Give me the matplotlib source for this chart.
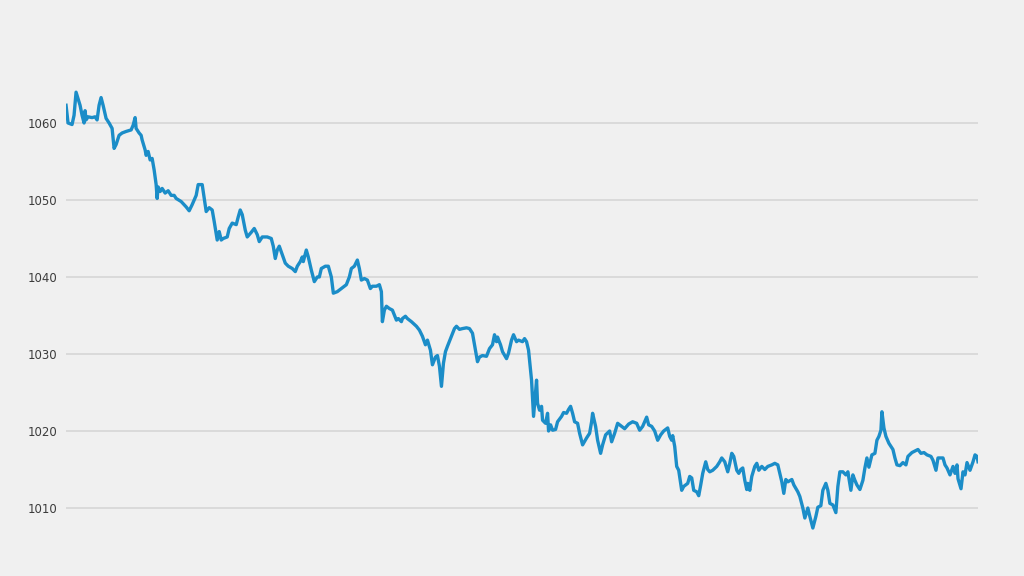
import numpy as np
import matplotlib
matplotlib.use("Agg")
import matplotlib.pyplot as plt

# ----------------------------------------------------
# Data
# ----------------------------------------------------

day = [
    1, 3, 7, 9, 11, 15, 17, 19, 20, 21, 23, 27, 30, 32, 34, 36, 38, 41, 44, 47,
    49, 51, 54, 57, 61, 66, 68, 70, 71, 74, 76, 77, 80, 81, 83, 85, 87, 89, 91, 92,
    93, 95, 97, 100, 103, 106, 109, 111, 116, 121, 124, 127, 131, 133, 137, 139, 141, 144, 147, 149,
    152, 154, 156, 158, 162, 164, 167, 171, 173, 175, 177, 180, 182, 186, 189, 192, 194, 197, 202, 206,
    208, 210, 212, 214, 217, 220, 223, 227, 230, 232, 235, 237, 238, 241, 243, 246, 249, 252, 254, 256,
    260, 263, 266, 268, 272, 276, 281, 284, 286, 289, 292, 294, 296, 299, 302, 305, 307, 311, 314, 316,
    317, 319, 321, 324, 327, 331, 333, 336, 337, 340, 342, 346, 351, 354, 357, 360, 362, 365, 367, 370,
    372, 374, 376, 378, 380, 382, 386, 389, 391, 394, 397, 401, 404, 407, 410, 412, 414, 417, 421, 424,
    427, 429, 431, 432, 435, 437, 441, 443, 446, 448, 451, 453, 457, 459, 461, 463, 466, 468, 471, 472,
    474, 476, 477, 480, 482, 483, 485, 487, 490, 492, 496, 498, 501, 503, 505, 507, 509, 512, 514, 517,
    521, 524, 526, 527, 530, 532, 535, 537, 540, 544, 546, 549, 552, 556, 559, 563, 567, 571, 574, 577,
    581, 583, 586, 589, 592, 595, 598, 602, 604, 606, 607, 609, 611, 613, 616, 618, 622, 624, 626, 628,
    631, 633, 635, 637, 640, 642, 644, 647, 651, 654, 656, 659, 662, 664, 666, 668, 671, 673, 675, 677,
    679, 681, 682, 684, 686, 689, 691, 693, 696, 699, 702, 706, 709, 712, 714, 716, 718, 720, 722, 726,
    728, 732, 734, 737, 739, 742, 744, 747, 750, 752, 755, 757, 760, 762, 764, 767, 770, 772, 774, 777,
    780, 782, 785, 787, 789, 791, 794, 797, 799, 801, 803, 806, 809, 811, 813, 815, 816, 818, 820, 823,
    827, 829, 831, 834, 837, 840, 842, 846, 849, 852, 855, 858, 861, 865, 867, 870, 872, 877, 879, 881,
    884, 887, 889, 891, 892, 895, 897, 899, 901, 904, 907, 909, 911, 912,
]

pressure = [
    1062.3, 1060.0, 1059.8, 1061.0, 1064.0, 1062.3, 1061.0, 1060.0, 1061.6, 1060.4,
    1060.8, 1060.7, 1060.8, 1060.4, 1062.3, 1063.3, 1062.3, 1060.6, 1060.0, 1059.3,
    1056.7, 1057.2, 1058.4, 1058.7, 1058.9, 1059.1, 1059.7, 1060.7, 1059.3, 1058.7,
    1058.4, 1057.8, 1056.5, 1055.8, 1056.3, 1055.2, 1055.4, 1053.9, 1052.0, 1050.2,
    1051.7, 1051.1, 1051.5, 1050.9, 1051.2, 1050.6, 1050.6, 1050.2, 1049.8, 1049.1,
    1048.6, 1049.4, 1050.6, 1052.0, 1052.0, 1050.2, 1048.5, 1049.0, 1048.7, 1047.2,
    1044.8, 1045.9, 1044.8, 1045.0, 1045.2, 1046.3, 1047.0, 1046.8, 1047.8, 1048.7,
    1048.1, 1046.1, 1045.2, 1045.8, 1046.3, 1045.5, 1044.6, 1045.2, 1045.2, 1045.0,
    1044.0, 1042.4, 1043.5, 1044.0, 1042.9, 1041.8, 1041.4, 1041.1, 1040.7, 1041.4,
    1042.0, 1042.6, 1042.0, 1043.5, 1042.6, 1040.9, 1039.4, 1040.0, 1040.0, 1041.1,
    1041.4, 1041.4, 1040.0, 1037.9, 1038.1, 1038.5, 1039.0, 1040.0, 1041.1, 1041.4,
    1042.2, 1041.1, 1039.6, 1039.8, 1039.6, 1038.5, 1038.8, 1038.8, 1039.0, 1038.1,
    1034.2, 1035.7, 1036.2, 1035.9, 1035.7, 1034.4, 1034.6, 1034.2, 1034.6, 1034.9,
    1034.6, 1034.2, 1033.6, 1033.1, 1032.3, 1031.2, 1031.8, 1030.5, 1028.6, 1029.6,
    1029.8, 1028.4, 1025.8, 1028.8, 1030.3, 1031.0, 1032.3, 1033.3, 1033.6, 1033.2,
    1033.3, 1033.4, 1033.3, 1032.7, 1030.5, 1029.0, 1029.6, 1029.8, 1029.7, 1030.7,
    1031.2, 1032.5, 1031.6, 1032.2, 1031.2, 1030.3, 1029.4, 1030.1, 1031.8, 1032.5,
    1031.6, 1031.8, 1031.6, 1032.0, 1031.6, 1030.5, 1026.6, 1021.9, 1026.6, 1023.6,
    1022.7, 1023.2, 1021.4, 1021.0, 1022.3, 1020.0, 1020.8, 1020.1, 1020.2, 1021.2,
    1021.9, 1022.4, 1022.3, 1022.8, 1023.2, 1022.3, 1021.2, 1021.0, 1019.7, 1018.2,
    1019.1, 1019.7, 1021.2, 1022.3, 1020.6, 1018.8, 1017.1, 1018.2, 1019.5, 1020.0,
    1018.6, 1019.7, 1021.0, 1020.6, 1020.3, 1020.9, 1021.2, 1021.0, 1020.1, 1020.6,
    1021.8, 1020.8, 1020.6, 1020.0, 1018.8, 1019.5, 1020.0, 1020.4, 1019.3, 1018.8,
    1019.4, 1018.0, 1015.4, 1014.9, 1012.3, 1012.8, 1013.2, 1014.1, 1013.9, 1012.3,
    1012.1, 1011.6, 1013.0, 1014.5, 1016.0, 1015.0, 1014.7, 1014.9, 1015.4, 1016.0,
    1016.5, 1016.0, 1014.7, 1015.8, 1017.1, 1016.7, 1014.9, 1014.5, 1015.0, 1015.2,
    1013.6, 1012.4, 1013.2, 1012.3, 1014.1, 1015.4, 1015.8, 1014.9, 1015.4, 1015.0,
    1015.4, 1015.6, 1015.8, 1015.6, 1014.5, 1013.4, 1011.9, 1013.7, 1013.4, 1013.7,
    1013.0, 1012.1, 1011.5, 1010.0, 1008.7, 1010.0, 1008.9, 1007.4, 1008.9, 1010.1,
    1010.3, 1012.3, 1013.2, 1012.3, 1010.6, 1010.4, 1009.4, 1012.8, 1014.7, 1014.7,
    1014.3, 1014.7, 1012.3, 1014.3, 1013.6, 1013.0, 1012.4, 1013.6, 1015.2, 1016.5,
    1015.3, 1016.9, 1017.1, 1018.8, 1019.3, 1020.1, 1022.5, 1020.4, 1019.3, 1018.4,
    1017.6, 1016.5, 1015.6, 1015.5, 1015.9, 1015.6, 1016.7, 1017.2, 1017.4, 1017.6,
    1017.1, 1017.2, 1016.9, 1016.7, 1016.2, 1014.9, 1016.5, 1016.5, 1015.6, 1015.2,
    1014.3, 1015.4, 1014.5, 1015.6, 1013.8, 1012.5, 1014.7, 1014.3, 1015.9, 1014.9,
    1016.0, 1016.9, 1016.7, 1016.0,
]

y_ticks = [1010, 1020, 1030, 1040, 1050, 1060]

# ----------------------------------------------------
# Plot
# ----------------------------------------------------

bg = "#f0f0f0"

fig = plt.figure(figsize=(10.24, 5.76), dpi=100, facecolor=bg)
ax = fig.add_axes([0.0645, 0.0512, 0.8906, 0.8155], facecolor=bg)

ax.plot(day, pressure, color="#1b8dc8", linewidth=2.4, solid_joinstyle="round")

ax.set_xlim(day[0], day[-1])
ax.set_ylim(1005, 1066)

ax.set_yticks(y_ticks)
ax.set_xticks([])
ax.grid(True, axis="y", color="#dadada", linewidth=1.4)
ax.set_axisbelow(True)

ax.tick_params(axis="y", length=0, pad=6, labelsize=8.5, labelcolor="#3c3c3c")

for side in ["top", "right", "bottom", "left"]:
    ax.spines[side].set_visible(False)

fig.savefig("out.png", dpi=100, facecolor=bg)
